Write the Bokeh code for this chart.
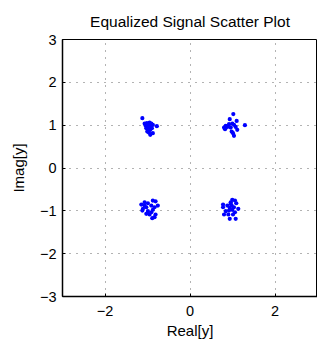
from bokeh.plotting import figure
from bokeh.models import FixedTicker, Range1d, ColumnDataSource
from bokeh.embed import file_html
from bokeh.resources import INLINE

# Equalized symbols, one list pair per cluster
re_q2 = [-1.068, -1.014, -0.951, -0.911, -1.044, -0.974, -0.911, -0.874, -1.028, -0.967,
         -0.897, -0.990, -0.935, -0.874, -0.967, -0.935, -1.005, -1.051, -0.780, -1.121]
im_q2 = [1.037, 1.046, 1.060, 1.037, 0.984, 1.000, 0.984, 1.007, 0.930, 0.944,
         0.930, 0.884, 0.891, 0.814, 0.828, 0.774, 0.851, 1.023, 0.977, 1.163]

re_q1 = [0.935, 1.098, 0.995, 0.841, 0.801, 0.879, 0.918, 1.035, 1.075, 0.958,
         1.292, 0.825, 1.112, 0.981, 1.012, 1.035, 1.019]
im_q1 = [1.140, 1.100, 1.037, 0.984, 0.944, 0.960, 1.023, 1.007, 0.960, 0.944,
         1.000, 0.907, 0.891, 0.851, 0.814, 0.751, 1.260]

re_q3 = [-1.068, -0.874, -0.811, -1.145, -0.990, -0.757, -1.107, -1.028, -0.911, -0.834,
         -1.121, -0.990, -0.874, -1.028, -0.951, -0.811, -0.834, -0.888, -0.911, -1.068]
im_q3 = [-0.800, -0.760, -0.777, -0.853, -0.823, -0.877, -0.953, -0.916, -0.877, -0.916,
         -0.993, -1.009, -0.977, -1.070, -1.086, -1.086, -1.149, -1.172, -1.033, -0.877]

re_q4 = [0.995, 1.058, 0.958, 1.089, 0.778, 0.879, 0.981, 1.035, 0.778, 0.935,
         1.136, 0.995, 0.841, 0.918, 1.058, 0.801, 0.902, 1.012, 0.935, 1.075, 0.958]
im_q4 = [-0.744, -0.760, -0.800, -0.823, -0.853, -0.877, -0.877, -0.916, -0.916, -0.930,
         -0.953, -0.977, -1.009, -0.993, -1.033, -1.086, -1.086, -1.086, -1.186, -1.186, -0.837]

x_ticks = [-2, 0, 2]
y_ticks = [-3, -2, -1, 0, 1, 2, 3]

re_all = re_q1 + re_q2 + re_q3 + re_q4
im_all = im_q1 + im_q2 + im_q3 + im_q4
src = ColumnDataSource(dict(x=re_all, y=im_all))

p = figure(width=317, height=343, output_backend="svg", toolbar_location=None,
           x_range=Range1d(-3, 3), y_range=Range1d(-3, 3),
           min_border_left=62, min_border_right=0, min_border_top=39, min_border_bottom=47,
           title="Equalized Signal Scatter Plot")

p.title.align = "center"
p.title.text_font = "Liberation Sans"
p.title.text_font_size = "15.5px"
p.title.text_font_style = "normal"
p.title.text_color = "black"
p.title.offset = 0
p.title.standoff = 19

p.scatter("x", "y", source=src, size=4.2, color="#0000ff", line_color=None)

p.xaxis.ticker = FixedTicker(ticks=x_ticks)
p.yaxis.ticker = FixedTicker(ticks=y_ticks)
p.xaxis.major_label_overrides = {t: (str(t).replace("-", "\u2212")) for t in x_ticks}
p.yaxis.major_label_overrides = {t: (str(t).replace("-", "\u2212")) for t in y_ticks}
p.xaxis.axis_label = "Real[y]"
p.yaxis.axis_label = "Imag[y]"

for ax in (p.xaxis, p.yaxis):
    ax.axis_label_text_font = "Liberation Sans"
    ax.axis_label_text_font_size = "15px"
    ax.axis_label_text_font_style = "normal"
    ax.axis_label_text_color = "black"
    ax.major_label_text_font = "Liberation Sans"
    ax.major_label_text_font_size = "14.5px"
    ax.major_label_text_color = "black"
    ax.major_tick_in = 3
    ax.major_tick_out = 0
    ax.minor_tick_in = 0
    ax.minor_tick_out = 0
    ax.axis_line_width = 1.5
    ax.axis_line_color = "black"
    ax.major_tick_line_color = "black"

p.xaxis.major_label_standoff = 9
p.yaxis.major_label_standoff = 6
p.xaxis.axis_label_standoff = 3
p.yaxis.axis_label_standoff = 10

p.xgrid.ticker = FixedTicker(ticks=x_ticks)
p.ygrid.ticker = FixedTicker(ticks=[-2, -1, 0, 1, 2])
for g in (p.xgrid, p.ygrid):
    g.grid_line_color = "#666666"
    g.grid_line_dash = "1 6"
    g.grid_line_width = 1

p.outline_line_color = "black"
p.outline_line_width = 1
p.outline_line_alpha = 1
p.background_fill_color = "white"
p.border_fill_color = "white"

open("out.html", "w").write(file_html(p, INLINE))
